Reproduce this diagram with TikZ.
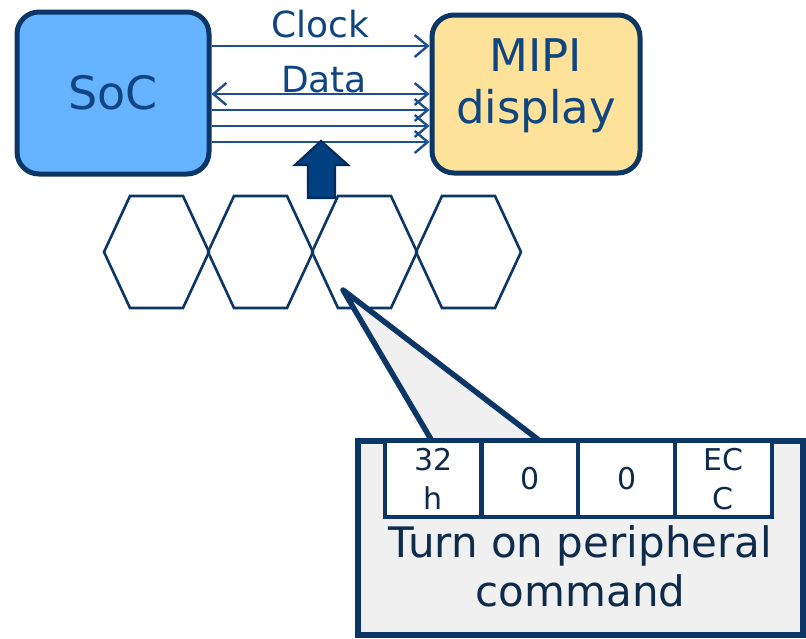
\documentclass[tikz,border=0pt]{standalone}
\usepackage{fontspec}
\setmainfont{DejaVu Sans}
\usetikzlibrary{arrows.meta}

\definecolor{navy}{HTML}{0C3666}
\definecolor{linkblue}{HTML}{1F4E8C}
\definecolor{textblue}{HTML}{0F4580}
\definecolor{darktext}{HTML}{0E2B4C}
\definecolor{socblue}{HTML}{66B3FF}
\definecolor{mipiyellow}{HTML}{FFE299}
\definecolor{calloutgrey}{HTML}{F0F0F0}
\definecolor{arrowfill}{HTML}{004080}
\definecolor{arrowline}{HTML}{002B5C}

\begin{document}
\begin{tikzpicture}[x=1pt, y=-1pt,
    chip/.style={draw=navy, line width=5pt, rounded corners=22pt, inner sep=0pt},
    bus/.style={draw=linkblue, line width=2.4pt, -{Straight Barb[length=13pt, width=22pt]}},
    buslabel/.style={text=textblue, font=\fontsize{36}{40}\selectfont, anchor=base, inner sep=0pt},
    cell/.style={draw=navy, line width=4pt, fill=white, minimum width=96.75pt, minimum height=76.5pt,
      inner sep=0pt, align=center, text=darktext, font=\fontsize{30}{39}\selectfont}]
  % Fix the page to the size of the reference
  \useasboundingbox (0,0) rectangle (806,638);

  % The two chips
  \node[chip, fill=socblue, minimum width=192pt, minimum height=162pt, text=textblue,
    font=\fontsize{46}{52}\selectfont] (soc) at (113,93) {SoC};
  \node[chip, fill=mipiyellow, minimum width=208pt, minimum height=158pt] (mipi) at (536,94) {};
  \node[text=textblue, align=center, inner sep=0pt, font=\fontsize{45}{52}\selectfont]
    (mipilbl) at (536,86) {MIPI\\display};

  % Clock and data lanes
  \draw[bus] (soc.east |- 0,46) -- (mipi.west |- 0,46);
  \draw[bus, {Straight Barb[length=13pt, width=22pt]}-{Straight Barb[length=13pt, width=22pt]}]
    (soc.east |- 0,94) -- (mipi.west |- 0,94);
  \foreach \y in {110,126,142} {
    \draw[bus] (soc.east |- 0,\y) -- (mipi.west |- 0,\y);
  }
  \node[buslabel] (clk) at (320,37) {Clock};
  \node[buslabel] (dat) at (324,92) {Data};

  % Block arrow from the packets up to the lanes
  \filldraw[fill=arrowfill, draw=arrowline, line width=2.2pt, line join=miter]
    (321,141) -- (348,165) -- (335,165) -- (335,198) -- (308,198) -- (308,165) -- (295,165) -- cycle;

  % Row of packets
  \foreach \i in {0,...,3} {
    \draw[navy, line width=2.6pt]
      ({104+104*\i},252) -- ({130+104*\i},196) -- ({183+104*\i},196)
      -- ({209+104*\i},252) -- ({183+104*\i},308) -- ({130+104*\i},308) -- cycle;
  }

  % Callout with the packet contents
  \filldraw[fill=calloutgrey, draw=navy, line width=5.5pt, line join=round]
    (343,290) -- (540,441) -- (432,441) -- cycle;
  \filldraw[fill=calloutgrey, draw=navy, line width=6pt] (358,441) rectangle (803,634.5);
  \node[cell] (c1) at (433.1,478.75) {32\\h};
  \node[cell] (c2) at (529.9,478.75) {0};
  \node[cell] (c3) at (626.6,478.75) {0};
  \node[cell] (c4) at (723.4,478.75) {EC\\C};
  \node[text=darktext, align=center, inner sep=0pt, font=\fontsize{42}{49}\selectfont]
    (cmd) at (580.5,566.5) {Turn on peripheral\\command};
\end{tikzpicture}
\end{document}
